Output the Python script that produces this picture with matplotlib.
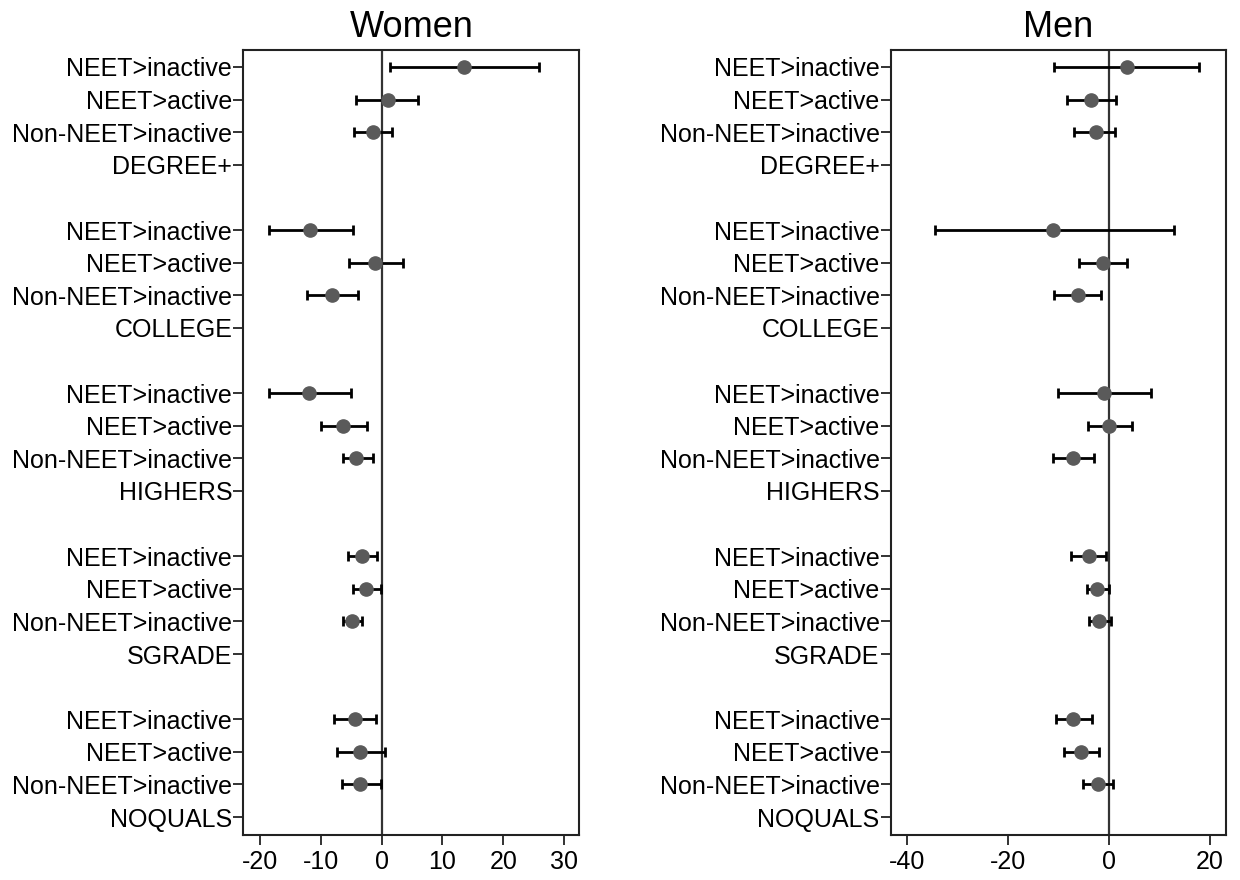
import matplotlib
matplotlib.use("Agg")
import matplotlib.pyplot as plt
import numpy as np

plt.rcParams['font.family'] = ['Liberation Sans', 'DejaVu Sans']

groups = ["DEGREE+", "COLLEGE", "HIGHERS", "SGRADE", "NOQUALS"]
outcomes = ["NEET>inactive", "NEET>active", "Non-NEET>inactive"]

# Women: estimates and CI per group (order: NEET>inactive, NEET>active, Non-NEET>inactive)
women_est = [[13.5, 1.0, -1.4],
             [-11.75, -1.1, -8.1],
             [-11.9, -6.3, -4.2],
             [-3.2, -2.5, -4.8],
             [-4.4, -3.5, -3.5]]
women_lo = [[1.3, -4.2, -4.6],
            [-18.45, -5.4, -12.2],
            [-18.6, -10.05, -6.3],
            [-5.55, -4.7, -6.4],
            [-7.8, -7.35, -6.6]]
women_hi = [[25.9, 6.0, 1.7],
            [-4.7, 3.45, -3.9],
            [-5.0, -2.4, -1.5],
            [-0.75, -0.1, -3.2],
            [-0.9, 0.6, -0.1]]

men_est = [[3.55, -3.5, -2.65],
           [-11.0, -1.25, -6.2],
           [-1.0, 0.0, -7.05],
           [-4.0, -2.4, -2.0],
           [-7.05, -5.5, -2.25]]
men_lo = [[-10.8, -8.2, -6.9],
          [-34.4, -6.0, -10.8],
          [-10.0, -4.2, -11.0],
          [-7.45, -4.35, -4.0],
          [-10.4, -8.8, -5.2]]
men_hi = [[17.9, 1.4, 1.3],
          [12.9, 3.6, -1.65],
          [8.3, 4.6, -3.0],
          [-0.5, 0.0, 0.4],
          [-3.4, -1.9, 0.8]]

panels = [
    ("Women", women_est, women_lo, women_hi, (-22.75, 32.5), [-20, -10, 0, 10, 20, 30]),
    ("Men", men_est, men_lo, men_hi, (-43.2, 23.1), [-40, -20, 0, 20]),
]

fig = plt.figure(figsize=(12.4, 8.8), dpi=100)
axpos = [[0.1962, 0.0511, 0.2710, 0.8921], [0.7183, 0.0511, 0.2701, 0.8921]]

ypos_ticks = []
ylabels = []
rows = {}
r = 0
for gi, g in enumerate(groups):
    for oi, o in enumerate(outcomes):
        rows[(gi, oi)] = r
        ypos_ticks.append(r)
        ylabels.append(o)
        r += 1
    ypos_ticks.append(r)
    ylabels.append(g)
    r += 2

for pi, (title, est, lo, hi, xlim, xticks) in enumerate(panels):
    ax = fig.add_axes(axpos[pi])
    ax.axvline(0, color="#333333", lw=1.6, zorder=1)
    for gi in range(len(groups)):
        for oi in range(len(outcomes)):
            y = rows[(gi, oi)]
            e = est[gi][oi]
            ax.errorbar([e], [y], xerr=[[e - lo[gi][oi]], [hi[gi][oi] - e]],
                        fmt="none", ecolor="black", elinewidth=2.0,
                        capsize=3.8, capthick=2.0, zorder=2)
            ax.plot([e], [y], "o", color="#5a5a5a", ms=9.5, mec="#5a5a5a", zorder=3)
    ax.set_xlim(*xlim)
    ax.set_ylim(23.55, -0.52)
    ax.set_xticks(xticks)
    ax.set_xticklabels([str(t) for t in xticks], fontsize=18)
    ax.set_yticks(ypos_ticks)
    ax.set_yticklabels(ylabels, fontsize=18)
    ax.tick_params(axis="both", direction="out", length=7, width=1.3, color="#222222")
    ax.tick_params(axis="x", pad=4)
    ax.tick_params(axis="y", pad=1)
    for s in ax.spines.values():
        s.set_linewidth(1.5)
        s.set_color("#222222")
    ax.set_title(title, fontsize=26, pad=9)

fig.savefig("out.png", dpi=100)
